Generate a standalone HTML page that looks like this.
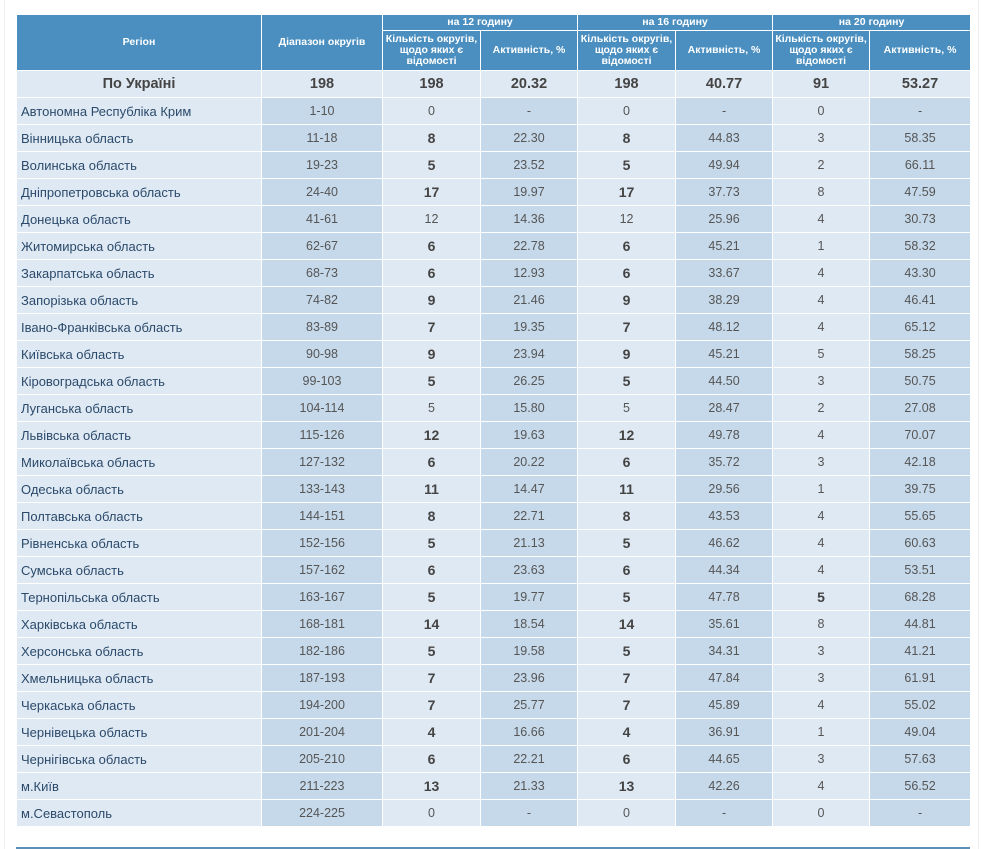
<!DOCTYPE html>
<html><head><meta charset="utf-8"><style>
body{margin:0;background:#fff;width:990px;height:849px;position:relative;overflow:hidden;font-family:"Liberation Sans","DejaVu Sans",sans-serif;}
table{position:absolute;left:16px;top:14px;border-collapse:collapse;table-layout:fixed;width:954px;}
th{background:#4a8fc0;color:#fff;font-size:10.5px;font-weight:bold;border:1px solid #fff;padding:0;line-height:11px;text-align:center;}
td{height:26px;border:1px solid #fff;padding:0;font-size:12.5px;color:#555;text-align:center;background:#dfe9f3;}
td.r{text-align:left;padding-left:4px;color:#2b4a6b;font-size:13px;}
td.d{background:#c6d9ea;}
td b{font-size:14px;color:#444;}
tr.tot td{font-weight:bold;font-size:14.5px;color:#444;}
</style></head><body>
<div style="position:absolute;left:4px;top:0;width:1px;height:849px;background:#eee"></div>
<div style="position:absolute;left:978px;top:0;width:1px;height:849px;background:#eee"></div>
<table>
<colgroup><col style="width:245px"><col style="width:121px"><col style="width:98px"><col style="width:97px"><col style="width:98px"><col style="width:97px"><col style="width:97px"><col style="width:101px"></colgroup>
<tr style="height:16px"><th rowspan="2">Регіон</th><th rowspan="2">Діапазон округів</th><th colspan="2">на 12 годину</th><th colspan="2">на 16 годину</th><th colspan="2">на 20 годину</th></tr>
<tr style="height:40px"><th>Кількість округів, щодо яких є відомості</th><th>Активність, %</th><th>Кількість округів, щодо яких є відомості</th><th>Активність, %</th><th>Кількість округів, щодо яких є відомості</th><th>Активність, %</th></tr>
<tr class="tot"><td>По Україні</td><td>198</td><td>198</td><td>20.32</td><td>198</td><td>40.77</td><td>91</td><td>53.27</td></tr>
<tr><td class="r">Автономна Республіка Крим</td><td class="d">1-10</td><td>0</td><td class="d">-</td><td>0</td><td class="d">-</td><td>0</td><td class="d">-</td></tr>
<tr><td class="r">Вінницька область</td><td class="d">11-18</td><td><b>8</b></td><td class="d">22.30</td><td><b>8</b></td><td class="d">44.83</td><td>3</td><td class="d">58.35</td></tr>
<tr><td class="r">Волинська область</td><td class="d">19-23</td><td><b>5</b></td><td class="d">23.52</td><td><b>5</b></td><td class="d">49.94</td><td>2</td><td class="d">66.11</td></tr>
<tr><td class="r">Дніпропетровська область</td><td class="d">24-40</td><td><b>17</b></td><td class="d">19.97</td><td><b>17</b></td><td class="d">37.73</td><td>8</td><td class="d">47.59</td></tr>
<tr><td class="r">Донецька область</td><td class="d">41-61</td><td>12</td><td class="d">14.36</td><td>12</td><td class="d">25.96</td><td>4</td><td class="d">30.73</td></tr>
<tr><td class="r">Житомирська область</td><td class="d">62-67</td><td><b>6</b></td><td class="d">22.78</td><td><b>6</b></td><td class="d">45.21</td><td>1</td><td class="d">58.32</td></tr>
<tr><td class="r">Закарпатська область</td><td class="d">68-73</td><td><b>6</b></td><td class="d">12.93</td><td><b>6</b></td><td class="d">33.67</td><td>4</td><td class="d">43.30</td></tr>
<tr><td class="r">Запорізька область</td><td class="d">74-82</td><td><b>9</b></td><td class="d">21.46</td><td><b>9</b></td><td class="d">38.29</td><td>4</td><td class="d">46.41</td></tr>
<tr><td class="r">Івано-Франківська область</td><td class="d">83-89</td><td><b>7</b></td><td class="d">19.35</td><td><b>7</b></td><td class="d">48.12</td><td>4</td><td class="d">65.12</td></tr>
<tr><td class="r">Київська область</td><td class="d">90-98</td><td><b>9</b></td><td class="d">23.94</td><td><b>9</b></td><td class="d">45.21</td><td>5</td><td class="d">58.25</td></tr>
<tr><td class="r">Кіровоградська область</td><td class="d">99-103</td><td><b>5</b></td><td class="d">26.25</td><td><b>5</b></td><td class="d">44.50</td><td>3</td><td class="d">50.75</td></tr>
<tr><td class="r">Луганська область</td><td class="d">104-114</td><td>5</td><td class="d">15.80</td><td>5</td><td class="d">28.47</td><td>2</td><td class="d">27.08</td></tr>
<tr><td class="r">Львівська область</td><td class="d">115-126</td><td><b>12</b></td><td class="d">19.63</td><td><b>12</b></td><td class="d">49.78</td><td>4</td><td class="d">70.07</td></tr>
<tr><td class="r">Миколаївська область</td><td class="d">127-132</td><td><b>6</b></td><td class="d">20.22</td><td><b>6</b></td><td class="d">35.72</td><td>3</td><td class="d">42.18</td></tr>
<tr><td class="r">Одеська область</td><td class="d">133-143</td><td><b>11</b></td><td class="d">14.47</td><td><b>11</b></td><td class="d">29.56</td><td>1</td><td class="d">39.75</td></tr>
<tr><td class="r">Полтавська область</td><td class="d">144-151</td><td><b>8</b></td><td class="d">22.71</td><td><b>8</b></td><td class="d">43.53</td><td>4</td><td class="d">55.65</td></tr>
<tr><td class="r">Рівненська область</td><td class="d">152-156</td><td><b>5</b></td><td class="d">21.13</td><td><b>5</b></td><td class="d">46.62</td><td>4</td><td class="d">60.63</td></tr>
<tr><td class="r">Сумська область</td><td class="d">157-162</td><td><b>6</b></td><td class="d">23.63</td><td><b>6</b></td><td class="d">44.34</td><td>4</td><td class="d">53.51</td></tr>
<tr><td class="r">Тернопільська область</td><td class="d">163-167</td><td><b>5</b></td><td class="d">19.77</td><td><b>5</b></td><td class="d">47.78</td><td><b>5</b></td><td class="d">68.28</td></tr>
<tr><td class="r">Харківська область</td><td class="d">168-181</td><td><b>14</b></td><td class="d">18.54</td><td><b>14</b></td><td class="d">35.61</td><td>8</td><td class="d">44.81</td></tr>
<tr><td class="r">Херсонська область</td><td class="d">182-186</td><td><b>5</b></td><td class="d">19.58</td><td><b>5</b></td><td class="d">34.31</td><td>3</td><td class="d">41.21</td></tr>
<tr><td class="r">Хмельницька область</td><td class="d">187-193</td><td><b>7</b></td><td class="d">23.96</td><td><b>7</b></td><td class="d">47.84</td><td>3</td><td class="d">61.91</td></tr>
<tr><td class="r">Черкаська область</td><td class="d">194-200</td><td><b>7</b></td><td class="d">25.77</td><td><b>7</b></td><td class="d">45.89</td><td>4</td><td class="d">55.02</td></tr>
<tr><td class="r">Чернівецька область</td><td class="d">201-204</td><td><b>4</b></td><td class="d">16.66</td><td><b>4</b></td><td class="d">36.91</td><td>1</td><td class="d">49.04</td></tr>
<tr><td class="r">Чернігівська область</td><td class="d">205-210</td><td><b>6</b></td><td class="d">22.21</td><td><b>6</b></td><td class="d">44.65</td><td>3</td><td class="d">57.63</td></tr>
<tr><td class="r">м.Київ</td><td class="d">211-223</td><td><b>13</b></td><td class="d">21.33</td><td><b>13</b></td><td class="d">42.26</td><td>4</td><td class="d">56.52</td></tr>
<tr><td class="r">м.Севастополь</td><td class="d">224-225</td><td>0</td><td class="d">-</td><td>0</td><td class="d">-</td><td>0</td><td class="d">-</td></tr>
</table>
<div style="position:absolute;left:16px;top:847px;width:954px;height:2px;background:#5b8fb5"></div>
</body></html>
